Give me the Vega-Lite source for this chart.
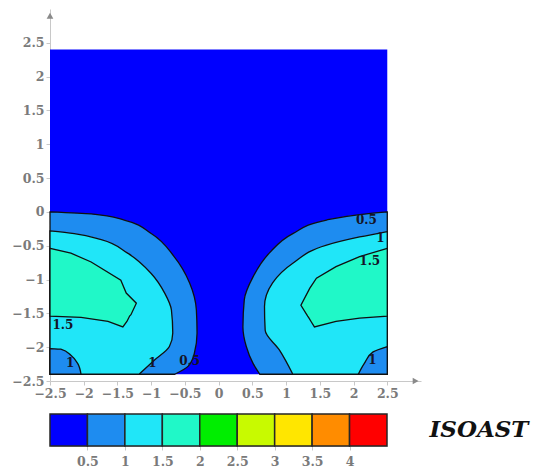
{
  "$schema": "https://vega.github.io/schema/vega-lite/v6.json",
  "padding": {"left": 11, "top": 9, "right": 0, "bottom": 0},
  "config": {
    "view": {"stroke": null},
    "font": "DejaVu Serif",
    "axis": {"grid": false, "title": null, "domainColor": "#c8c8c8", "tickColor": "#c8c8c8", "tickSize": 4, "labelColor": "#7a7a7a", "labelFont": "DejaVu Serif", "labelFontSize": 12.5, "labelFontWeight": "bold", "labelPadding": 2, "labelFlush": false, "labelOverlap": false, "format": ".1~f"}
  },
  "resolve": {"scale": {"x": "independent", "y": "independent", "color": "shared"}},
  "datasets": {
    "bg": [{"x": -2.5, "x2": 2.5, "y": -2.4, "y2": 2.4, "lo": 0}],
    "regions": [
      {"lv": "a", "side": "L", "lo": 0.5, "y": -2.40, "x": -2.5, "x2": -0.65},
      {"lv": "a", "side": "L", "lo": 0.5, "y": -2.28, "x": -2.5, "x2": -0.45},
      {"lv": "a", "side": "L", "lo": 0.5, "y": -2.09, "x": -2.5, "x2": -0.36},
      {"lv": "a", "side": "L", "lo": 0.5, "y": -1.79, "x": -2.5, "x2": -0.32},
      {"lv": "a", "side": "L", "lo": 0.5, "y": -1.45, "x": -2.5, "x2": -0.33},
      {"lv": "a", "side": "L", "lo": 0.5, "y": -1.05, "x": -2.5, "x2": -0.43},
      {"lv": "a", "side": "L", "lo": 0.5, "y": -0.66, "x": -2.5, "x2": -0.66},
      {"lv": "a", "side": "L", "lo": 0.5, "y": -0.32, "x": -2.5, "x2": -1.00},
      {"lv": "a", "side": "L", "lo": 0.5, "y": -0.12, "x": -2.5, "x2": -1.40},
      {"lv": "a", "side": "L", "lo": 0.5, "y": -0.03, "x": -2.5, "x2": -1.89},
      {"lv": "a", "side": "L", "lo": 0.5, "y": 0.0, "x": -2.5, "x2": -2.5},
      {"lv": "a", "side": "R", "lo": 0.5, "y": -2.40, "x": 0.61, "x2": 2.5},
      {"lv": "a", "side": "R", "lo": 0.5, "y": -2.24, "x": 0.51, "x2": 2.5},
      {"lv": "a", "side": "R", "lo": 0.5, "y": -1.99, "x": 0.41, "x2": 2.5},
      {"lv": "a", "side": "R", "lo": 0.5, "y": -1.70, "x": 0.36, "x2": 2.5},
      {"lv": "a", "side": "R", "lo": 0.5, "y": -1.30, "x": 0.38, "x2": 2.5},
      {"lv": "a", "side": "R", "lo": 0.5, "y": -0.96, "x": 0.51, "x2": 2.5},
      {"lv": "a", "side": "R", "lo": 0.5, "y": -0.61, "x": 0.75, "x2": 2.5},
      {"lv": "a", "side": "R", "lo": 0.5, "y": -0.32, "x": 1.10, "x2": 2.5},
      {"lv": "a", "side": "R", "lo": 0.5, "y": -0.12, "x": 1.60, "x2": 2.5},
      {"lv": "a", "side": "R", "lo": 0.5, "y": -0.04, "x": 2.09, "x2": 2.5},
      {"lv": "a", "side": "R", "lo": 0.5, "y": 0.0, "x": 2.5, "x2": 2.5},
      {"lv": "b", "side": "L", "lo": 1, "y": -2.40, "x": -2.5, "x2": -1.18},
      {"lv": "b", "side": "L", "lo": 1, "y": -2.19, "x": -2.5, "x2": -0.95},
      {"lv": "b", "side": "L", "lo": 1, "y": -1.99, "x": -2.5, "x2": -0.73},
      {"lv": "b", "side": "L", "lo": 1, "y": -1.79, "x": -2.5, "x2": -0.68},
      {"lv": "b", "side": "L", "lo": 1, "y": -1.45, "x": -2.5, "x2": -0.70},
      {"lv": "b", "side": "L", "lo": 1, "y": -1.20, "x": -2.5, "x2": -0.80},
      {"lv": "b", "side": "L", "lo": 1, "y": -0.91, "x": -2.5, "x2": -1.00},
      {"lv": "b", "side": "L", "lo": 1, "y": -0.61, "x": -2.5, "x2": -1.35},
      {"lv": "b", "side": "L", "lo": 1, "y": -0.41, "x": -2.5, "x2": -1.74},
      {"lv": "b", "side": "L", "lo": 1, "y": -0.32, "x": -2.5, "x2": -2.14},
      {"lv": "b", "side": "L", "lo": 1, "y": -0.28, "x": -2.5, "x2": -2.5},
      {"lv": "b", "side": "R", "lo": 1, "y": -2.40, "x": 1.10, "x2": 2.5},
      {"lv": "b", "side": "R", "lo": 1, "y": -2.04, "x": 0.90, "x2": 2.5},
      {"lv": "b", "side": "R", "lo": 1, "y": -1.75, "x": 0.69, "x2": 2.5},
      {"lv": "b", "side": "R", "lo": 1, "y": -1.40, "x": 0.68, "x2": 2.5},
      {"lv": "b", "side": "R", "lo": 1, "y": -1.05, "x": 0.80, "x2": 2.5},
      {"lv": "b", "side": "R", "lo": 1, "y": -0.76, "x": 1.10, "x2": 2.5},
      {"lv": "b", "side": "R", "lo": 1, "y": -0.49, "x": 1.60, "x2": 2.5},
      {"lv": "b", "side": "R", "lo": 1, "y": -0.37, "x": 2.09, "x2": 2.5},
      {"lv": "b", "side": "R", "lo": 1, "y": -0.29, "x": 2.5, "x2": 2.5},
      {"lv": "c", "side": "L", "lo": 1.5, "y": -1.70, "x": -1.42, "x2": -1.42},
      {"lv": "c", "side": "L", "lo": 1.5, "y": -1.62, "x": -1.64, "x2": -1.36},
      {"lv": "c", "side": "L", "lo": 1.5, "y": -1.56, "x": -2.04, "x2": -1.33},
      {"lv": "c", "side": "L", "lo": 1.5, "y": -1.54, "x": -2.5, "x2": -1.32},
      {"lv": "c", "side": "L", "lo": 1.5, "y": -1.52, "x": -2.5, "x2": -1.30},
      {"lv": "c", "side": "L", "lo": 1.5, "y": -1.35, "x": -2.5, "x2": -1.22},
      {"lv": "c", "side": "L", "lo": 1.5, "y": -1.20, "x": -2.5, "x2": -1.37},
      {"lv": "c", "side": "L", "lo": 1.5, "y": -1.01, "x": -2.5, "x2": -1.45},
      {"lv": "c", "side": "L", "lo": 1.5, "y": -0.74, "x": -2.5, "x2": -1.89},
      {"lv": "c", "side": "L", "lo": 1.5, "y": -0.61, "x": -2.5, "x2": -2.19},
      {"lv": "c", "side": "L", "lo": 1.5, "y": -0.54, "x": -2.5, "x2": -2.5},
      {"lv": "c", "side": "R", "lo": 1.5, "y": -1.70, "x": 1.42, "x2": 1.42},
      {"lv": "c", "side": "R", "lo": 1.5, "y": -1.62, "x": 1.37, "x2": 1.74},
      {"lv": "c", "side": "R", "lo": 1.5, "y": -1.57, "x": 1.34, "x2": 2.09},
      {"lv": "c", "side": "R", "lo": 1.5, "y": -1.54, "x": 1.32, "x2": 2.5},
      {"lv": "c", "side": "R", "lo": 1.5, "y": -1.38, "x": 1.22, "x2": 2.5},
      {"lv": "c", "side": "R", "lo": 1.5, "y": -1.13, "x": 1.35, "x2": 2.5},
      {"lv": "c", "side": "R", "lo": 1.5, "y": -0.98, "x": 1.45, "x2": 2.5},
      {"lv": "c", "side": "R", "lo": 1.5, "y": -0.81, "x": 1.74, "x2": 2.5},
      {"lv": "c", "side": "R", "lo": 1.5, "y": -0.66, "x": 2.09, "x2": 2.5},
      {"lv": "c", "side": "R", "lo": 1.5, "y": -0.54, "x": 2.5, "x2": 2.5},
      {"lv": "d", "side": "L", "lo": 0.5, "y": -2.40, "x": -2.5, "x2": -2.04},
      {"lv": "d", "side": "L", "lo": 0.5, "y": -2.24, "x": -2.5, "x2": -2.09},
      {"lv": "d", "side": "L", "lo": 0.5, "y": -2.12, "x": -2.5, "x2": -2.19},
      {"lv": "d", "side": "L", "lo": 0.5, "y": -2.03, "x": -2.5, "x2": -2.34},
      {"lv": "d", "side": "L", "lo": 0.5, "y": -2.02, "x": -2.5, "x2": -2.5},
      {"lv": "d", "side": "R", "lo": 0.5, "y": -2.40, "x": 2.07, "x2": 2.5},
      {"lv": "d", "side": "R", "lo": 0.5, "y": -2.24, "x": 2.16, "x2": 2.5},
      {"lv": "d", "side": "R", "lo": 0.5, "y": -2.07, "x": 2.29, "x2": 2.5},
      {"lv": "d", "side": "R", "lo": 0.5, "y": -1.99, "x": 2.5, "x2": 2.5}
    ],
    "labels": [
      {"x": -2.31, "y": -1.67, "t": "1.5"},
      {"x": -2.2, "y": -2.24, "t": "1"},
      {"x": -0.98, "y": -2.24, "t": "1"},
      {"x": -0.43, "y": -2.2, "t": "0.5"},
      {"x": 2.19, "y": -0.12, "t": "0.5"},
      {"x": 2.4, "y": -0.39, "t": "1"},
      {"x": 2.24, "y": -0.72, "t": "1.5"},
      {"x": 2.28, "y": -2.19, "t": "1"}
    ],
    "arrows": [
      {"x": -2.5, "y": 2.9, "dir": "up"},
      {"x": 2.92, "y": -2.5, "dir": "right"}
    ],
    "cbar": [
      {"lo": 0, "hi": 0.5}, {"lo": 0.5, "hi": 1}, {"lo": 1, "hi": 1.5},
      {"lo": 1.5, "hi": 2}, {"lo": 2, "hi": 2.5}, {"lo": 2.5, "hi": 3},
      {"lo": 3, "hi": 3.5}, {"lo": 3.5, "hi": 4}, {"lo": 4, "hi": 4.5}
    ],
    "title": [{"t": "ISOAST"}]
  },
  "vconcat": [
    {
      "width": 371,
      "height": 372,
      "encoding": {
        "x": {"type": "quantitative", "scale": {"domain": [-2.5, 3.0], "nice": false, "zero": false}, "axis": {"values": [-2.5, -2, -1.5, -1, -0.5, 0, 0.5, 1, 1.5, 2, 2.5]}},
        "y": {"type": "quantitative", "scale": {"domain": [-2.5, 3.0], "nice": false, "zero": false}, "axis": {"values": [-2.5, -2, -1.5, -1, -0.5, 0, 0.5, 1, 1.5, 2, 2.5]}}
      },
      "layer": [
        {
          "data": {"name": "bg"},
          "mark": {"type": "rect"},
          "encoding": {
            "x": {"field": "x", "type": "quantitative"},
            "x2": {"field": "x2"},
            "y": {"field": "y", "type": "quantitative"},
            "y2": {"field": "y2"},
            "color": {"field": "lo", "type": "ordinal", "scale": {"domain": [0, 0.5, 1, 1.5, 2, 2.5, 3, 3.5, 4], "range": ["#0000FF", "#1E8CF0", "#20E6F8", "#20F8C8", "#00EE00", "#C8FA00", "#FFE600", "#FF8C00", "#FF0000"]}, "legend": null}
          }
        },
        {
          "data": {"name": "regions"},
          "transform": [{"filter": "datum.lv == 'a'"}],
          "mark": {"type": "area", "orient": "horizontal", "interpolate": "monotone", "stroke": "#101010", "strokeWidth": 1.3, "fillOpacity": 1, "opacity": 1},
          "encoding": {
            "y": {"field": "y", "type": "quantitative"},
            "x": {"field": "x", "type": "quantitative", "stack": null},
            "x2": {"field": "x2"},
            "detail": {"field": "side"},
            "color": {"field": "lo", "type": "ordinal", "legend": null}
          }
        },
        {
          "data": {"name": "regions"},
          "transform": [{"filter": "datum.lv == 'b'"}],
          "mark": {"type": "area", "orient": "horizontal", "interpolate": "monotone", "stroke": "#101010", "strokeWidth": 1.3, "fillOpacity": 1, "opacity": 1},
          "encoding": {
            "y": {"field": "y", "type": "quantitative"},
            "x": {"field": "x", "type": "quantitative", "stack": null},
            "x2": {"field": "x2"},
            "detail": {"field": "side"},
            "color": {"field": "lo", "type": "ordinal", "legend": null}
          }
        },
        {
          "data": {"name": "regions"},
          "transform": [{"filter": "datum.lv == 'c'"}],
          "mark": {"type": "area", "orient": "horizontal", "stroke": "#101010", "strokeWidth": 1.3, "fillOpacity": 1, "opacity": 1},
          "encoding": {
            "y": {"field": "y", "type": "quantitative"},
            "x": {"field": "x", "type": "quantitative", "stack": null},
            "x2": {"field": "x2"},
            "detail": {"field": "side"},
            "color": {"field": "lo", "type": "ordinal", "legend": null}
          }
        },
        {
          "data": {"name": "regions"},
          "transform": [{"filter": "datum.lv == 'd'"}],
          "mark": {"type": "area", "orient": "horizontal", "interpolate": "monotone", "stroke": "#101010", "strokeWidth": 1.3, "fillOpacity": 1, "opacity": 1},
          "encoding": {
            "y": {"field": "y", "type": "quantitative"},
            "x": {"field": "x", "type": "quantitative", "stack": null},
            "x2": {"field": "x2"},
            "detail": {"field": "side"},
            "color": {"field": "lo", "type": "ordinal", "legend": null}
          }
        },
        {
          "data": {"name": "labels"},
          "mark": {"type": "text", "font": "DejaVu Serif", "fontWeight": "bold", "fontSize": 12, "color": "#141428"},
          "encoding": {
            "x": {"field": "x", "type": "quantitative"},
            "y": {"field": "y", "type": "quantitative"},
            "text": {"field": "t"}
          }
        },
        {
          "data": {"name": "arrows"},
          "mark": {"type": "point", "filled": true, "size": 45, "color": "#8a8a8a", "opacity": 1},
          "encoding": {
            "x": {"field": "x", "type": "quantitative"},
            "y": {"field": "y", "type": "quantitative"},
            "shape": {"field": "dir", "type": "nominal", "scale": {"domain": ["up", "right"], "range": ["triangle-up", "triangle-right"]}, "legend": null}
          }
        }
      ]
    },
    {
      "hconcat": [
        {
          "width": 337,
          "height": 32,
          "data": {"name": "cbar"},
          "mark": {"type": "rect", "stroke": "#262626", "strokeWidth": 1.5},
          "encoding": {
            "x": {"field": "lo", "type": "quantitative", "scale": {"domain": [0, 4.5], "nice": false, "zero": false}, "axis": {"values": [0.5, 1, 1.5, 2, 2.5, 3, 3.5, 4], "labelPadding": 5}},
            "x2": {"field": "hi"},
            "color": {"field": "lo", "type": "ordinal", "legend": null}
          }
        },
        {
          "width": 110,
          "height": 32,
          "data": {"name": "title"},
          "mark": {"type": "text", "font": "DejaVu Serif", "fontStyle": "italic", "fontWeight": "bold", "fontSize": 23, "color": "#111111"},
          "encoding": {"text": {"field": "t"}}
        }
      ],
      "spacing": 36
    }
  ],
  "spacing": 13
}
